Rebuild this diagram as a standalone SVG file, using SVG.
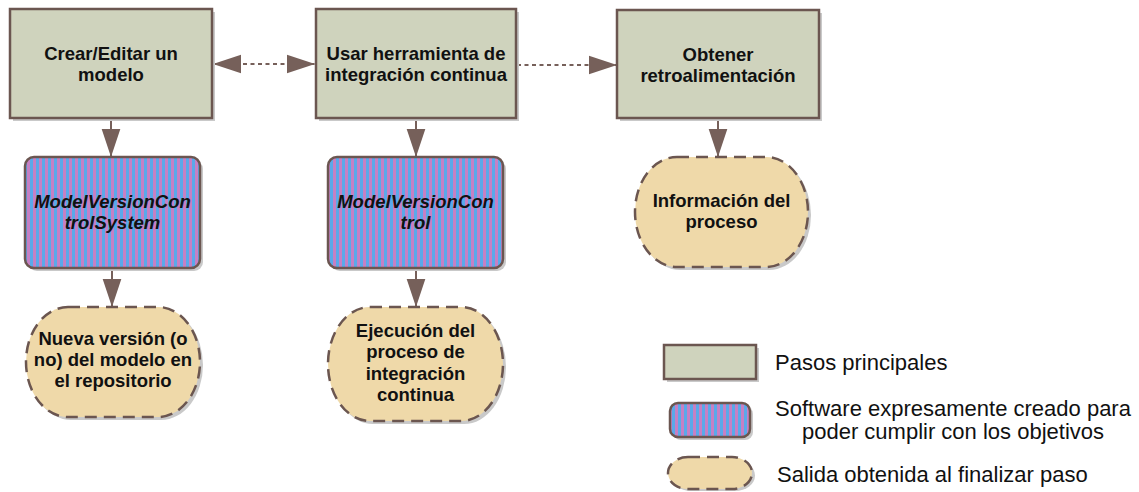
<svg xmlns="http://www.w3.org/2000/svg" width="1139" height="492" viewBox="0 0 1139 492">
<defs>
<pattern id="stripes" patternUnits="userSpaceOnUse" width="6" height="10">
<rect x="0" y="0" width="3" height="10" fill="#5aa9ea" shape-rendering="crispEdges"/>
<rect x="3" y="0" width="3" height="10" fill="#c680c4" shape-rendering="crispEdges"/>
</pattern>
<marker id="ah" markerUnits="userSpaceOnUse" markerWidth="28" markerHeight="20" viewBox="0 0 27 18" refX="27" refY="9" orient="auto-start-reverse">
<path d="M0,0 L27,9 L0,18 z" fill="#76605a"/>
</marker>
</defs>
<style>
.box{fill:#cfd3bd;stroke:#6b5650;stroke-width:2.5}
.soft{fill:url(#stripes);stroke:#6b5650;stroke-width:2.5}
.out{fill:#efd9a9;stroke:#6b5650;stroke-width:2.5;stroke-dasharray:12 7}
.shadow{fill:#c9c9c9}
.lbl{font-family:"Liberation Sans",Arial,sans-serif;font-weight:bold;font-size:18.5px;fill:#111;text-anchor:middle}
.it{font-style:italic}
.leg{font-family:"Liberation Sans",Arial,sans-serif;font-size:22px;fill:#111}
.conn{stroke:#76605a;stroke-width:2;fill:none}
.dot{stroke-dasharray:4 3.5}
</style>

<g id="connectors">
<line class="conn dot" x1="213" y1="64" x2="315" y2="64" marker-start="url(#ah)" marker-end="url(#ah)"/>
<line class="conn dot" x1="517" y1="65" x2="617" y2="65" marker-end="url(#ah)"/>
<line class="conn" x1="111" y1="119" x2="111" y2="157" marker-end="url(#ah)"/>
<line class="conn" x1="416" y1="119" x2="416" y2="157" marker-end="url(#ah)"/>
<line class="conn" x1="718" y1="119" x2="718" y2="157" marker-end="url(#ah)"/>
<line class="conn" x1="112" y1="269" x2="112" y2="307" marker-end="url(#ah)"/>
<line class="conn" x1="416" y1="269" x2="416" y2="307" marker-end="url(#ah)"/>
</g>

<g id="node-crear">
<rect class="shadow" x="13" y="12" width="202" height="109"/>
<rect class="box" x="10" y="9" width="202" height="109"/>
<text class="lbl" x="111" y="60">Crear/Editar un</text>
<text class="lbl" x="111" y="81">modelo</text>
</g>

<g id="node-usar">
<rect class="shadow" x="319" y="12" width="200" height="109"/>
<rect class="box" x="316" y="9" width="200" height="109"/>
<text class="lbl" x="416" y="60">Usar herramienta de</text>
<text class="lbl" x="416" y="81">integración continua</text>
</g>

<g id="node-obtener">
<rect class="shadow" x="620" y="13" width="202" height="108"/>
<rect class="box" x="617" y="10" width="202" height="108"/>
<text class="lbl" x="718" y="61">Obtener</text>
<text class="lbl" x="718" y="82">retroalimentación</text>
</g>

<g id="node-mvcs">
<rect class="shadow" x="28" y="160" width="175" height="111" rx="9"/>
<rect class="soft" x="25" y="157" width="175" height="111" rx="9"/>
<text class="lbl it" x="112.5" y="208">ModelVersionCon</text>
<text class="lbl it" x="112.5" y="229">trolSystem</text>
</g>

<g id="node-mvc">
<rect class="shadow" x="331" y="160" width="175" height="111" rx="9"/>
<rect class="soft" x="328" y="157" width="175" height="111" rx="9"/>
<text class="lbl it" x="415.5" y="208">ModelVersionCon</text>
<text class="lbl it" x="415.5" y="229">trol</text>
</g>

<g id="node-nueva">
<rect class="shadow" x="29" y="310" width="174" height="110" rx="42" ry="55"/>
<rect class="out" x="26" y="307" width="174" height="110" rx="42" ry="55"/>
<text class="lbl" x="113" y="345">Nueva versión (o</text>
<text class="lbl" x="113" y="366">no) del modelo en</text>
<text class="lbl" x="113" y="387">el repositorio</text>
</g>

<g id="node-ejecucion">
<rect class="shadow" x="331" y="310" width="175" height="114" rx="42" ry="57"/>
<rect class="out" x="328" y="307" width="175" height="114" rx="42" ry="57"/>
<text class="lbl" x="415.5" y="337">Ejecución del</text>
<text class="lbl" x="415.5" y="358">proceso de</text>
<text class="lbl" x="415.5" y="380">integración</text>
<text class="lbl" x="415.5" y="401">continua</text>
</g>

<g id="node-info">
<rect class="shadow" x="638" y="160" width="173" height="110" rx="42" ry="55"/>
<rect class="out" x="635" y="157" width="173" height="110" rx="42" ry="55"/>
<text class="lbl" x="721.5" y="207">Información del</text>
<text class="lbl" x="721.5" y="228">proceso</text>
</g>

<g id="legend">
<rect class="shadow" x="667" y="348" width="92" height="34"/>
<rect class="box" x="664" y="345" width="92" height="34"/>
<text class="leg" x="775" y="370">Pasos principales</text>
<rect class="shadow" x="673" y="406" width="80" height="34" rx="8"/>
<rect class="soft" x="670" y="403" width="80" height="34" rx="8"/>
<text class="leg" x="953" y="416" text-anchor="middle">Software expresamente creado para</text>
<text class="leg" x="953" y="439" text-anchor="middle">poder cumplir con los objetivos</text>
<rect class="shadow" x="671" y="460" width="84" height="31" rx="20" ry="15.5"/>
<rect class="out" x="668" y="457" width="84" height="32" rx="20" ry="16"/>
<text class="leg" x="777" y="482">Salida obtenida al finalizar paso</text>
</g>
</svg>
